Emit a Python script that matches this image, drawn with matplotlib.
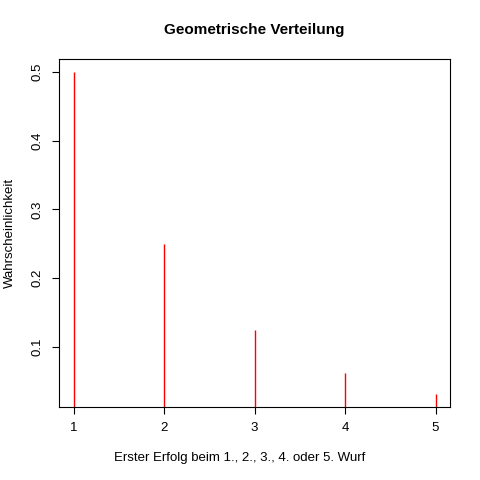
import matplotlib
matplotlib.use("Agg")
import matplotlib.pyplot as plt
plt.rcParams['font.family'] = ['Liberation Sans', 'DejaVu Sans']

wurf = [1, 2, 3, 4, 5]
prob = [0.5, 0.25, 0.125, 0.0625, 0.03125]

fig = plt.figure(figsize=(4.8, 4.8), dpi=100)
ax = fig.add_axes([0.123, 0.152, 0.8145, 0.725])
ax.vlines(wurf, 0, prob, colors="red", linewidth=1)
ax.set_xlim(0.84, 5.16)
ax.set_ylim(0.0125, 0.51875)
ax.set_xticks(wurf)
ax.set_yticks([0.1, 0.2, 0.3, 0.4, 0.5])
ax.set_yticklabels(["0.1", "0.2", "0.3", "0.4", "0.5"], rotation=90, va="center")
ax.tick_params(labelsize=9.5, length=5, pad=6)
for s in ax.spines.values():
    s.set_linewidth(0.8)
fig.text(0.5, 1 - 458/480, "Erster Erfolg beim 1., 2., 3., 4. oder 5. Wurf", fontsize=9.5, ha="center", va="center")
fig.text(10/480, 1 - 233/480, "Wahrscheinlichkeit", fontsize=9.5, rotation=90, ha="center", va="center")
fig.text(0.53, 1 - 30/480, "Geometrische Verteilung", fontsize=11, fontweight="bold", ha="center", va="center")
fig.savefig("out.png", dpi=100)
